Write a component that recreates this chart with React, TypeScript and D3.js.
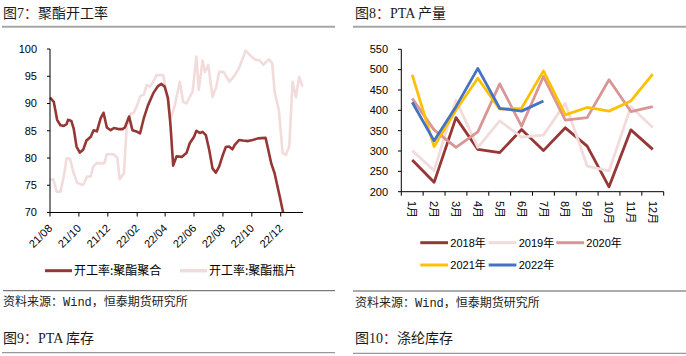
import React from 'react';
import * as d3 from 'd3';

// ---------- Figure 7: polyester operating rate ----------
const polymerDates = ['2021-08-01','2021-08-09','2021-08-16','2021-08-23','2021-08-30','2021-09-05','2021-09-08','2021-09-15','2021-09-20','2021-09-26','2021-10-03','2021-10-10','2021-10-17','2021-10-26','2021-11-01','2021-11-08','2021-11-16','2021-11-22','2021-11-29','2021-12-07','2021-12-14','2021-12-23','2022-01-01','2022-01-06','2022-01-15','2022-01-22','2022-02-01','2022-02-07','2022-02-15','2022-02-24','2022-03-07','2022-03-17','2022-03-24','2022-03-31','2022-04-07','2022-04-12','2022-04-18','2022-04-25','2022-05-06','2022-05-16','2022-05-23','2022-06-01','2022-06-06','2022-06-13','2022-06-19','2022-06-26','2022-07-03','2022-07-10','2022-07-17','2022-07-24','2022-08-01','2022-08-07','2022-08-14','2022-08-21','2022-08-26','2022-09-04','2022-09-12','2022-09-23','2022-10-03','2022-10-14','2022-10-30','2022-11-04','2022-11-11','2022-11-18','2022-11-29','2022-12-06'];
const polymerValues = [91.1,90.3,87.0,86.0,85.9,86.2,87.0,86.8,85.4,82.1,81.0,81.5,83.2,83.9,85.1,84.9,87.3,88.3,85.6,85.1,85.5,85.3,85.3,85.6,87.6,85.1,84.8,84.5,87.3,89.7,91.9,93.2,93.6,93.1,91.0,86.4,78.6,80.3,80.2,80.9,82.7,83.9,85.0,84.6,84.8,84.2,81.5,78.1,77.3,78.4,80.6,82.0,82.1,81.6,82.4,83.3,83.2,83.1,83.3,83.6,83.7,81.8,79.0,77.2,72.9,70.0];

const chipDates = ['2021-08-01','2021-08-08','2021-08-15','2021-08-23','2021-08-30','2021-09-05','2021-09-12','2021-09-19','2021-09-27','2021-10-06','2021-10-11','2021-10-18','2021-10-26','2021-10-31','2021-11-08','2021-11-17','2021-11-24','2021-11-29','2021-12-13','2021-12-21','2021-12-26','2022-01-04','2022-01-10','2022-01-18','2022-01-25','2022-02-01','2022-02-08','2022-02-15','2022-02-21','2022-02-28','2022-03-05','2022-03-14','2022-03-28','2022-04-04','2022-04-12','2022-04-21','2022-05-02','2022-05-09','2022-05-16','2022-05-29','2022-06-06','2022-06-11','2022-06-19','2022-06-24','2022-07-01','2022-07-10','2022-07-18','2022-07-24','2022-08-02','2022-08-15','2022-08-26','2022-09-04','2022-09-18','2022-09-27','2022-10-07','2022-10-18','2022-10-25','2022-11-06','2022-11-13','2022-11-18','2022-11-27','2022-12-05','2022-12-12','2022-12-19','2022-12-26','2023-01-02','2023-01-09','2023-01-16'];
const chipValues = [76.0,76.1,73.8,73.8,76.6,79.9,79.9,77.5,75.5,75.1,75.2,76.6,76.6,78.4,79.1,79.0,79.1,80.7,80.7,80.1,76.1,77.2,85.7,88.1,88.3,89.7,91.4,91.6,93.4,93.1,93.7,95.2,95.2,91.9,87.0,89.5,94.0,90.3,90.0,92.2,98.6,92.5,97.9,95.8,97.1,91.2,93.1,95.8,95.8,94.0,95.2,96.5,99.7,98.9,98.1,97.9,97.1,98.1,97.4,92.2,88.8,80.9,80.6,82.1,94.0,91.1,94.9,93.1];

const leftYTicks = [70, 75, 80, 85, 90, 95, 100];
const leftXTickDates = ['2021-08-01','2021-10-01','2021-12-01','2022-02-01','2022-04-01','2022-06-01','2022-08-01','2022-10-01','2022-12-01'];
const leftSeriesNames = ['开工率:聚酯聚合', '开工率:聚酯瓶片'];

// ---------- Figure 8: PTA output ----------
const months = ['1月','2月','3月','4月','5月','6月','7月','8月','9月','10月','11月','12月'];
const y2018 = [278,223,382,304,296,353,301,357,312,212,352,304];
const y2019 = [301,252,425,309,374,334,339,417,263,251,409,358];
const y2020 = [429,352,309,347,465,361,483,376,382,475,397,409];
const y2021 = [487,311,401,479,403,405,497,389,407,398,423,489];
const y2022 = [420,325,409,503,405,398,423];
const yearNames = ['2018年','2019年','2020年','2021年','2022年'];
const rightYTicks = [200,250,300,350,400,450,500,550];

const parse = d3.timeParse('%Y-%m-%d');
const CJK = '"Noto Sans CJK SC", "Noto Sans", sans-serif';
const LAT = 'Arial, "Liberation Sans", ' + CJK;
const SRC = '"Liberation Mono", "Noto Sans CJK SC", monospace';

function Title({ x, y, num, text }: { x: number; y: number; num: string; text: string }) {
  return (
    <text x={x} y={y} fontSize={14} fontFamily={'"Liberation Serif", ' + CJK} fill="#1a1a1a">
      <tspan fontFamily={CJK}>图</tspan>
      <tspan>{num}</tspan>
      <tspan fill="#c00000" fontFamily={CJK}>：</tspan>
      <tspan>{text}</tspan>
    </text>
  );
}

export default function App() {
  // left chart scales
  const xL = d3.scaleTime().domain([parse('2021-08-01')!, parse('2023-01-17')!]).range([50, 303]);
  const yL = d3.scaleLinear().domain([70, 100]).range([212.5, 49]);
  const lineL = d3.line<[Date, number]>().x(d => xL(d[0])).y(d => yL(d[1]));
  const polyPts = polymerDates.map((d, i) => [parse(d)!, polymerValues[i]] as [Date, number]);
  const chipPts = chipDates.map((d, i) => [parse(d)!, chipValues[i]] as [Date, number]);
  const fmt = d3.timeFormat('%y/%m');

  // right chart scales
  const xR = d3.scaleBand<string>().domain(months).range([401.3, 663.7]);
  const yR = d3.scaleLinear().domain([200, 550]).range([191.7, 49.3]);
  const lineR = d3.line<number>().x((_, i) => xR(months[i])! + xR.bandwidth() / 2).y(d => yR(d));
  const series = [
    { name: yearNames[0], data: y2018, color: '#953735' },
    { name: yearNames[1], data: y2019, color: '#F2DCDB' },
    { name: yearNames[2], data: y2020, color: '#D99694' },
    { name: yearNames[3], data: y2021, color: '#FFC000' },
    { name: yearNames[4], data: y2022, color: '#4472C4' },
  ];
  const legendPos = [
    [420.3, 242.7], [488.7, 242.7], [556.3, 242.7], [420.3, 265], [488.7, 265],
  ];
  const bandEdges = months.map(m => xR(m)!).concat([663.7]);

  return (
    <svg width={686} height={356} style={{ position: 'absolute', left: 0, top: 0, background: '#fff' }}>
      <rect width={686} height={356} fill="#fff" />
      {/* ---------- left panel ---------- */}
      <Title x={3} y={18} num="7" text="聚酯开工率" />
      <line x1={2} x2={335} y1={26.7} y2={26.7} stroke="#A6A6A6" strokeWidth={2} />

      <path d={lineL(chipPts)!} fill="none" stroke="#F2DCDB" strokeWidth={2.6} strokeLinejoin="round" />
      <path d={lineL(polyPts)!} fill="none" stroke="#953735" strokeWidth={2.6} strokeLinejoin="round" />

      <line x1={50} x2={50} y1={49} y2={212.5} stroke="#000" strokeWidth={1} />
      <line x1={50} x2={303} y1={212.5} y2={212.5} stroke="#000" strokeWidth={1} />
      {leftYTicks.map(t => (
        <g key={t}>
          <line x1={47} x2={50} y1={yL(t)} y2={yL(t)} stroke="#000" />
          <text x={37} y={yL(t)} dy="0.35em" textAnchor="end" fontSize={11} fontFamily={LAT} fill="#000">{t}</text>
        </g>
      ))}
      {leftXTickDates.map(d => {
        const x = xL(parse(d)!);
        return (
          <g key={d}>
            <line x1={x} x2={x} y1={212.5} y2={216.5} stroke="#000" />
            <text transform={`translate(${x + 3},${229}) rotate(-45)`} textAnchor="end" fontSize={11} fontFamily={LAT} fill="#000">{fmt(parse(d)!)}</text>
          </g>
        );
      })}

      <line x1={45} x2={72} y1={270.7} y2={270.7} stroke="#953735" strokeWidth={3} />
      <text x={74} y={270.7} dy="0.35em" fontSize={12} fontFamily={CJK} fill="#000">{leftSeriesNames[0]}</text>
      <line x1={180} x2={207} y1={270.7} y2={270.7} stroke="#F2DCDB" strokeWidth={3.5} />
      <text x={209} y={270.7} dy="0.35em" fontSize={12} fontFamily={CJK} fill="#000">{leftSeriesNames[1]}</text>

      <line x1={3} x2={335} y1={290.7} y2={290.7} stroke="#595959" strokeWidth={1} />
      <text x={3} y={306} fontSize={12} fontFamily={SRC} fill="#222">资料来源：Wind，恒泰期货研究所</text>
      <Title x={3} y={343} num="9" text="PTA 库存" />
      <line x1={2} x2={335} y1={352.7} y2={352.7} stroke="#7f7f7f" strokeWidth={1} />

      {/* ---------- right panel ---------- */}
      <Title x={355} y={18} num="8" text="PTA 产量" />
      <line x1={353} x2={686} y1={26.7} y2={26.7} stroke="#A6A6A6" strokeWidth={2} />

      {series.map(s => (
        <path key={s.name} d={lineR(s.data)!} fill="none" stroke={s.color} strokeWidth={2.8} strokeLinejoin="round" />
      ))}

      <line x1={401.3} x2={401.3} y1={49.3} y2={191.7} stroke="#000" />
      <line x1={401.3} x2={663.7} y1={191.7} y2={191.7} stroke="#000" />
      {rightYTicks.map(t => (
        <g key={t}>
          <line x1={398} x2={401.3} y1={yR(t)} y2={yR(t)} stroke="#000" />
          <text x={388} y={yR(t)} dy="0.35em" textAnchor="end" fontSize={11} fontFamily={LAT} fill="#000">{t}</text>
        </g>
      ))}
      {bandEdges.map((x, i) => (
        <line key={i} x1={x} x2={x} y1={191.7} y2={195.7} stroke="#000" />
      ))}
      {months.map(m => {
        const cx = xR(m)! + xR.bandwidth() / 2;
        return (
          <text key={m} transform={`translate(${cx},${201}) rotate(90)`} dy="0.35em" textAnchor="start" fontSize={11} fontFamily={LAT} fill="#000">{m}</text>
        );
      })}

      {series.map((s, i) => (
        <g key={s.name}>
          <line x1={legendPos[i][0]} x2={legendPos[i][0] + 27.7} y1={legendPos[i][1]} y2={legendPos[i][1]} stroke={s.color} strokeWidth={3} />
          <text x={legendPos[i][0] + 30} y={legendPos[i][1]} dy="0.35em" fontSize={11} fontFamily={LAT} fill="#000">{s.name}</text>
        </g>
      ))}

      <line x1={353} x2={686} y1={291} y2={291} stroke="#595959" strokeWidth={1} />
      <text x={355} y={307} fontSize={12} fontFamily={SRC} fill="#222">资料来源：Wind，恒泰期货研究所</text>
      <Title x={355} y={343} num="10" text="涤纶库存" />
      <line x1={353} x2={686} y1={353.3} y2={353.3} stroke="#7f7f7f" strokeWidth={1} />
    </svg>
  );
}
